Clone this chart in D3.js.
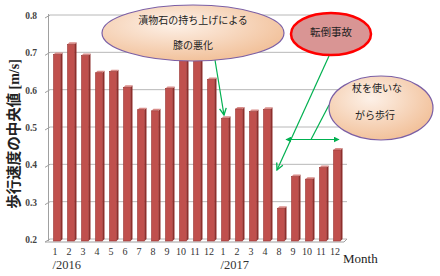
<!DOCTYPE html>
<html><head><meta charset="utf-8">
<script src="https://cdn.jsdelivr.net/npm/d3@7"></script>
<style>body{margin:0;background:#fff}svg{display:block}</style>
</head><body>
<svg id="c" width="440" height="276"></svg>
<script>
const months = ["1","2","3","4","5","6","7","8","9","10","11","12","1","2","3","4","8","9","10","11","12"];
const yearLabels = [{label:"/2016", at:0},{label:"/2017", at:12}];
const values = [0.697,0.724,0.694,0.648,0.651,0.609,0.549,0.546,0.606,0.71,0.715,0.630,0.526,0.551,0.544,0.550,0.285,0.370,0.363,0.394,0.441];
const yTicks = [0.2,0.3,0.4,0.5,0.6,0.7,0.8];

const svg = d3.select("#c");
const defs = svg.append("defs");
const rg = defs.append("radialGradient").attr("id","peach").attr("cx","40%").attr("cy","35%").attr("r","65%");
rg.append("stop").attr("offset","0%").attr("stop-color","#fdf1e8");
rg.append("stop").attr("offset","100%").attr("stop-color","#f2c29c");
function mk(id, path, refX){
  defs.append("marker").attr("id",id).attr("viewBox","0 0 10 10").attr("refX",refX).attr("refY",5)
    .attr("markerWidth",7).attr("markerHeight",7).attr("orient","auto-start-reverse")
    .append("path").attr("d",path).attr("fill","none").attr("stroke","#00b050").attr("stroke-width",1.6);
}
mk("arr","M1,1 L9,5 L1,9",9);
defs.append("marker").attr("id","tri").attr("viewBox","0 0 10 10").attr("refX",9).attr("refY",5)
  .attr("markerWidth",5).attr("markerHeight",5).attr("orient","auto-start-reverse")
  .append("path").attr("d","M0,0 L10,5 L0,10 Z").attr("fill","#00b050");

const x = d3.scaleBand().domain(d3.range(months.length)).range([50,344]).paddingInner(0.5).paddingOuter(0.25);
const y = d3.scaleLinear().domain([0.2,0.8]).range([240,16]);

// back wall gridlines
svg.append("g").selectAll("line").data(yTicks).join("line")
  .attr("x1",50).attr("x2",347).attr("y1",d=>y(d)-1).attr("y2",d=>y(d)-1)
  .attr("stroke","#b8b8b8").attr("stroke-width",1);
// left wall
svg.append("line").attr("x1",48.5).attr("x2",48.5).attr("y1",y(0.8)-2).attr("y2",y(0.2)+1).attr("stroke","#a0a0a0");
svg.append("g").selectAll("line").data(yTicks).join("line")
  .attr("x1",45).attr("x2",50).attr("y1",d=>y(d)+2).attr("y2",d=>y(d)-1).attr("stroke","#a0a0a0");
// floor
svg.append("path").attr("d",`M45,${y(0.2)+2} L344,${y(0.2)+2} L347,${y(0.2)-1}`).attr("fill","none").attr("stroke","#a0a0a0");

// y tick labels
svg.append("g").selectAll("text").data(yTicks).join("text")
  .attr("x",37).attr("y",d=>y(d)+3).attr("text-anchor","end")
  .attr("font-family","Liberation Serif").attr("font-size",9.5).attr("font-weight","bold").attr("fill","#444")
  .text(d=>d.toFixed(1));

// bars (3D look)
const bw = x.bandwidth();
const bars = svg.append("g").selectAll("g").data(values).join("g");
bars.append("path").attr("fill","#8e2f2c")
  .attr("d",(d,i)=>{const x0=x(i)+bw, t=y(d), b=y(0.2); return `M${x0},${t} L${x0+2},${t-2} L${x0+2},${b-1} L${x0},${b+1}Z`;});
bars.append("path").attr("fill","#d98c89")
  .attr("d",(d,i)=>{const x0=x(i), t=y(d); return `M${x0},${t} L${x0+2},${t-2} L${x0+bw+2},${t-2} L${x0+bw},${t}Z`;});
bars.append("rect").attr("x",(d,i)=>x(i)).attr("y",d=>y(d)).attr("width",bw).attr("height",d=>y(0.2)+1-y(d))
  .attr("fill","#c0504d").attr("stroke","#9a3532").attr("stroke-width",0.6);

// x labels
svg.append("g").selectAll("text").data(months).join("text")
  .attr("x",(d,i)=>x(i)+bw/2-2).attr("y",255).attr("text-anchor","middle")
  .attr("font-family","Liberation Serif").attr("font-size",10).attr("fill","#333").text(d=>d);
svg.append("g").selectAll("text").data(yearLabels).join("text")
  .attr("x",d=>x(d.at)-1).attr("y",269)
  .attr("font-family","Liberation Serif").attr("font-size",12.5).attr("fill","#333").text(d=>d.label);
svg.append("text").attr("x",343).attr("y",263).attr("font-family","Liberation Serif").attr("font-size",13).attr("fill","#222").text("Month");

// y title
const yt = svg.append("text").attr("transform","translate(19,134) rotate(-90)").attr("text-anchor","middle").attr("fill","#222");
yt.append("tspan").attr("font-family","Noto Sans CJK JP").attr("font-weight","bold").attr("font-size",14.5).text("歩行速度の中央値 ");
yt.append("tspan").attr("font-family","Liberation Serif").attr("font-weight","bold").attr("font-size",14).text("[m/s]");

// arrows
const g = svg.append("g").attr("stroke","#00b050").attr("stroke-width",1.2).attr("fill","none");
g.append("line").attr("x1",215).attr("y1",60).attr("x2",x(12)+bw/2-1).attr("y2",115).attr("marker-end","url(#arr)");
g.append("line").attr("x1",329).attr("y1",56).attr("x2",277).attr("y2",170).attr("marker-end","url(#arr)");
g.append("line").attr("x1",329).attr("y1",105).attr("x2",311).attr("y2",139.5);
g.append("line").attr("x1",286).attr("y1",139.5).attr("x2",339).attr("y2",139.5).attr("marker-start","url(#tri)").attr("marker-end","url(#tri)");

// callouts
svg.append("ellipse").attr("cx",193).attr("cy",33).attr("rx",91).attr("ry",28)
  .attr("fill","url(#peach)").attr("stroke","#7b5fa5").attr("stroke-width",1.2);
svg.append("text").attr("x",193).attr("y",24).attr("text-anchor","middle").attr("font-family","Noto Sans CJK JP").attr("font-size",10).attr("fill","#222").text("漬物石の持ち上げによる");
svg.append("text").attr("x",193).attr("y",49).attr("text-anchor","middle").attr("font-family","Noto Sans CJK JP").attr("font-size",10).attr("fill","#222").text("膝の悪化");

svg.append("ellipse").attr("cx",331).attr("cy",34).attr("rx",40).attr("ry",21)
  .attr("fill","#d99594").attr("stroke","#ff0000").attr("stroke-width",2.5);
svg.append("text").attr("x",331).attr("y",36).attr("text-anchor","middle").attr("font-family","Noto Sans CJK JP").attr("font-size",10.5).attr("fill","#222").text("転倒事故");

svg.append("ellipse").attr("cx",381).attr("cy",108).attr("rx",52).attr("ry",32)
  .attr("fill","url(#peach)").attr("stroke","#7b5fa5").attr("stroke-width",1.2);
svg.append("text").attr("x",377).attr("y",92).attr("text-anchor","middle").attr("font-family","Noto Sans CJK JP").attr("font-size",10).attr("fill","#222").text("杖を使いな");
svg.append("text").attr("x",375).attr("y",119).attr("text-anchor","middle").attr("font-family","Noto Sans CJK JP").attr("font-size",10).attr("fill","#222").text("がら歩行");
</script>
</body></html>
